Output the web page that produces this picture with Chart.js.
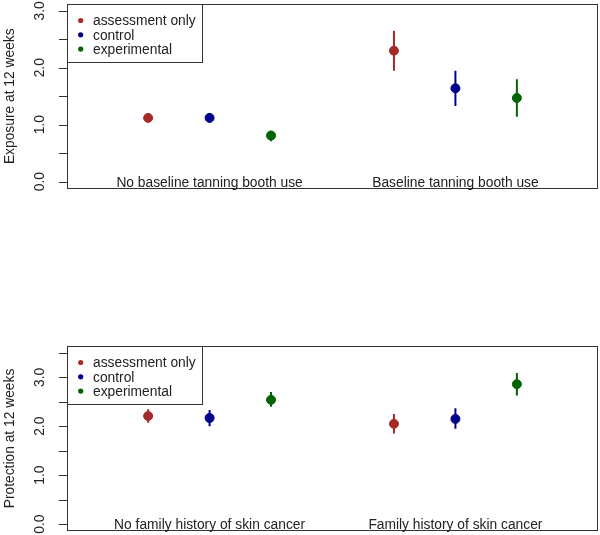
<!DOCTYPE html>
<html>
<head>
<meta charset="utf-8">
<script src="https://cdn.jsdelivr.net/npm/chart.js@4"></script>
<style>
  body { margin: 0; background: #fff; }
  #wrap { position: relative; width: 600px; height: 535px; }
  canvas { position: absolute; left: 0; }
</style>
</head>
<body>
<div id="wrap">
  <canvas id="expChart" width="600" height="267" style="top:0;width:600px;height:267px"></canvas>
  <canvas id="protChart" width="600" height="268" style="top:267px;width:600px;height:268px"></canvas>
</div>
<script>
const groups = ['assessment only', 'control', 'experimental'];
const groupColors = ['#A52A2A', '#00008B', '#006400'];
// x positions of each group's points, for the two categories
const xPositions = [[1, 5], [2, 6], [3, 7]];
const categoryCenters = [2, 6];

const exposureCategories = ['No baseline tanning booth use', 'Baseline tanning booth use'];
const exposureMean = [[1.12, 2.30], [1.12, 1.64], [0.81, 1.47]];
const exposureLow  = [[1.07, 1.95], [1.04, 1.33], [0.71, 1.14]];
const exposureHigh = [[1.17, 2.65], [1.20, 1.95], [0.89, 1.80]];
const exposureTicks = [0, 0.5, 1, 1.5, 2, 2.5, 3];
const exposureTickLabels = ['0.0', '1.0', '2.0', '3.0'];
const exposureLabelValues = [0, 1, 2, 3];

const protectionCategories = ['No family history of skin cancer', 'Family history of skin cancer'];
const protectionMean = [[2.21, 2.05], [2.17, 2.15], [2.54, 2.86]];
const protectionLow  = [[2.07, 1.85], [2.00, 1.95], [2.40, 2.63]];
const protectionHigh = [[2.35, 2.25], [2.33, 2.37], [2.70, 3.09]];
const protectionTicks = [0, 0.5, 1, 1.5, 2, 2.5, 3, 3.5];
const protectionTickLabels = ['0.0', '1.0', '2.0', '3.0'];
const protectionLabelValues = [0, 1, 2, 3];

const FONT = "13.8px 'Liberation Sans', Arial, sans-serif";

// R-like axis, box, category labels and legend drawn on the scales
const rStyle = {
  id: 'rStyle',
  afterDraw(chart) {
    const cfg = chart.options.plugins.rStyle;
    const { ctx, chartArea: a, scales: { x, y } } = chart;
    ctx.save();
    ctx.font = FONT;
    ctx.fillStyle = '#222';
    ctx.strokeStyle = '#333';
    ctx.lineWidth = 1;

    // box
    ctx.strokeRect(Math.round(a.left) + 0.5, Math.round(a.top) + 0.5,
      Math.round(a.right - a.left) - 1, Math.round(a.bottom - a.top) - 1);

    // tick marks
    ctx.beginPath();
    cfg.ticks.forEach(v => {
      const py = Math.round(y.getPixelForValue(v)) + 0.5;
      ctx.moveTo(a.left - 8, py);
      ctx.lineTo(a.left, py);
    });
    ctx.stroke();

    // tick labels (rotated like R)
    ctx.textAlign = 'center';
    ctx.textBaseline = 'middle';
    cfg.labelValues.forEach((v, i) => {
      ctx.save();
      ctx.translate(40, y.getPixelForValue(v));
      ctx.rotate(-Math.PI / 2);
      ctx.fillText(cfg.tickLabels[i], 0, 0);
      ctx.restore();
    });

    // axis title
    ctx.save();
    ctx.translate(10, (a.top + a.bottom) / 2);
    ctx.rotate(-Math.PI / 2);
    ctx.fillText(cfg.title, 0, 0);
    ctx.restore();

    // category labels at y = 0
    ctx.textBaseline = 'alphabetic';
    cfg.categories.forEach((c, i) => {
      ctx.fillText(c, x.getPixelForValue(categoryCenters[i]), y.getPixelForValue(0) + 5);
    });

    // legend
    const lx = Math.round(a.left) + 0.5, ly = Math.round(a.top) + 0.5;
    ctx.fillStyle = '#fff';
    ctx.fillRect(lx, ly, 135, 58);
    ctx.strokeRect(lx, ly, 135, 58);
    ctx.textAlign = 'left';
    ctx.textBaseline = 'middle';
    groups.forEach((g, i) => {
      const ry = a.top + 16.5 + i * 14.3;
      ctx.fillStyle = groupColors[i];
      ctx.beginPath();
      ctx.arc(a.left + 13.7, ry, 2.6, 0, Math.PI * 2);
      ctx.fill();
      ctx.fillStyle = '#222';
      ctx.fillText(g, a.left + 26, ry + 1);
    });
    ctx.restore();
  }
};

function makeChart(id, means, lows, highs, yMin, yMax, ticks, labelValues, tickLabels, title, categories, padding) {
  const datasets = [];
  groups.forEach((g, gi) => {
    datasets.push({
      type: 'scatter',
      label: g,
      data: xPositions[gi].map((xv, i) => ({ x: xv, y: means[gi][i] })),
      backgroundColor: groupColors[gi],
      borderColor: groupColors[gi],
      borderWidth: 1,
      pointRadius: 4.5,
      order: 1
    });
    const bars = [];
    xPositions[gi].forEach((xv, i) => {
      bars.push({ x: xv, y: lows[gi][i] }, { x: xv, y: highs[gi][i] }, { x: xv, y: null });
    });
    datasets.push({
      type: 'line',
      label: g + ' CI',
      data: bars,
      borderColor: groupColors[gi],
      borderWidth: 2,
      pointRadius: 0,
      spanGaps: false,
      fill: false,
      order: 2
    });
  });

  return new Chart(document.getElementById(id), {
    type: 'scatter',
    data: { datasets },
    options: {
      responsive: false,
      animation: false,
      events: [],
      layout: { padding, autoPadding: false },
      scales: {
        x: { type: 'linear', min: -0.32, max: 8.32, display: false },
        y: { type: 'linear', min: yMin, max: yMax, display: false }
      },
      plugins: {
        legend: { display: false },
        tooltip: { enabled: false },
        rStyle: { ticks, labelValues, tickLabels, title, categories }
      }
    },
    plugins: [rStyle]
  });
}

makeChart('expChart', exposureMean, exposureLow, exposureHigh, -0.12, 3.12,
  exposureTicks, exposureLabelValues, exposureTickLabels, 'Exposure at 12 weeks',
  exposureCategories, { left: 67, right: 2, top: 4, bottom: 78.5 });

makeChart('protChart', protectionMean, protectionLow, protectionHigh, -0.14, 3.64,
  protectionTicks, protectionLabelValues, protectionTickLabels, 'Protection at 12 weeks',
  protectionCategories, { left: 67, right: 2, top: 79, bottom: 4 });
</script>
</body>
</html>
